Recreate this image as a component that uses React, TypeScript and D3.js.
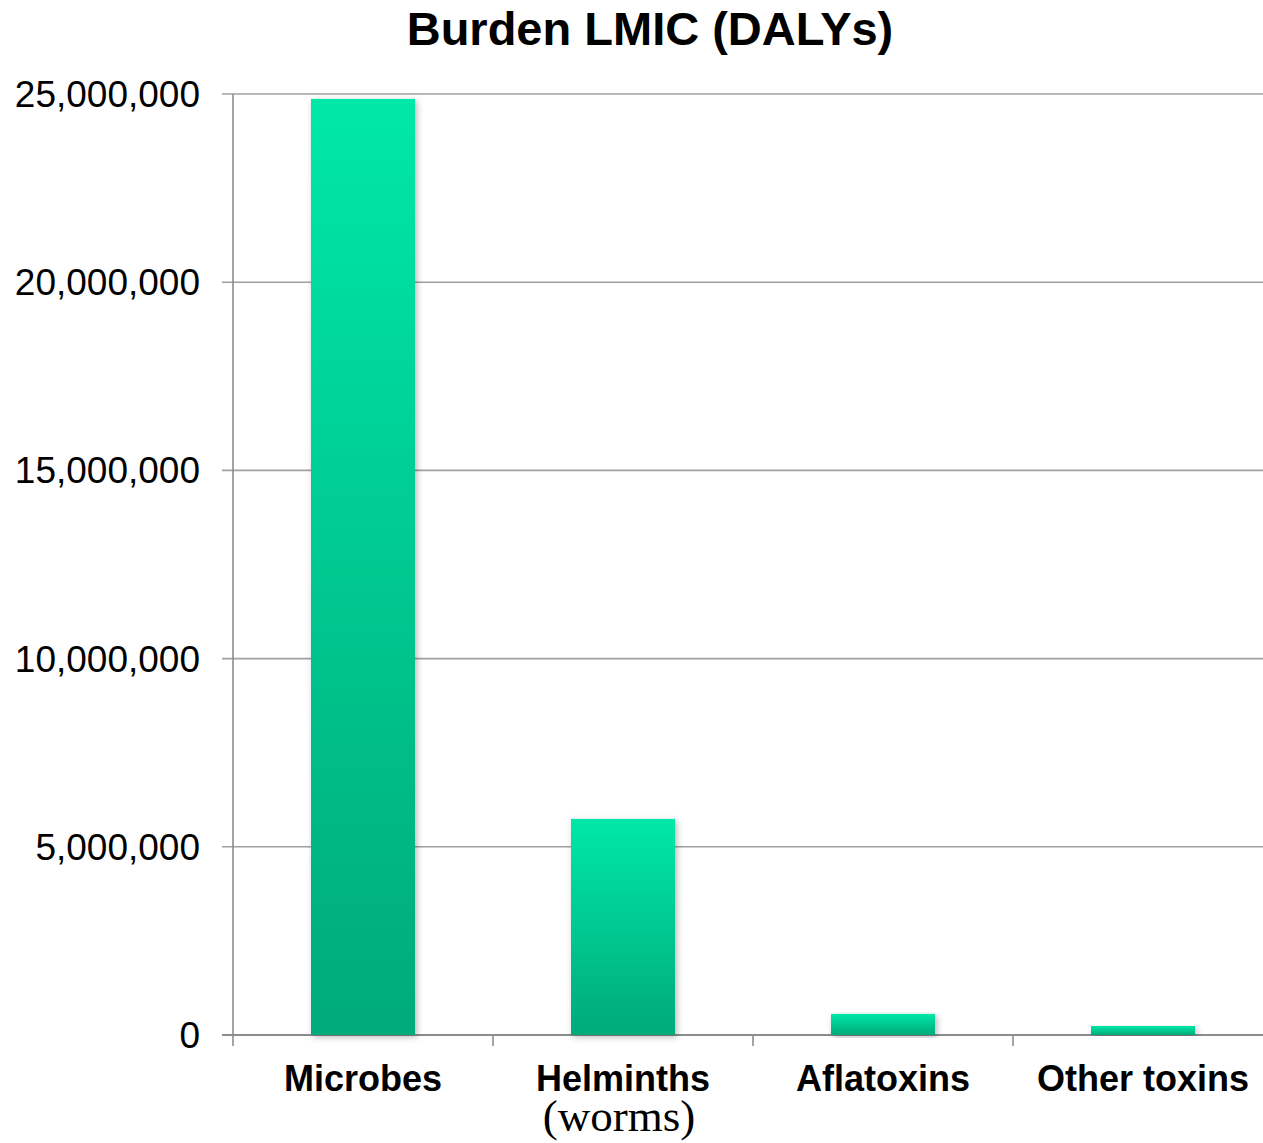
import React from "react";
import * as d3 from "d3";

// Disease burden in low- and middle-income countries, DALYs by hazard group
const categories = ["Microbes", "Helminths", "Aflatoxins", "Other toxins"];
const categorySubLabels = ["", "(worms)", "", ""];
const dalys = [24870000, 5740000, 560000, 240000];
const yTicks = [0, 5000000, 10000000, 15000000, 20000000, 25000000];
const title = "Burden LMIC (DALYs)";

const W = 1263;
const H = 1143;
const plotLeft = 233;
const plotRight = 1273;
const plotTop = 94;
const plotBottom = 1035;

export default function App() {
  const x = d3
    .scaleBand<string>()
    .domain(categories)
    .range([plotLeft, plotRight])
    .paddingInner(0.6)
    .paddingOuter(0.3);
  const band = d3.scaleBand<string>().domain(categories).range([plotLeft, plotRight]);
  const y = d3.scaleLinear().domain([0, 25000000]).range([plotBottom, plotTop]);
  const fmt = d3.format(",");
  const sans = "'Liberation Sans', Arial, sans-serif";

  return (
    <div style={{ position: "absolute", left: 0, top: 0 }}>
      <svg width={W} height={H} style={{ display: "block" }}>
        <defs>
          <linearGradient id="barFill" x1="0" y1="0" x2="0" y2="1">
            <stop offset="0" stopColor="#00E8A7" />
            <stop offset="1" stopColor="#00AA7A" />
          </linearGradient>
          <filter id="barShadow" x="-20%" y="-5%" width="140%" height="115%">
            <feDropShadow dx="2" dy="2" stdDeviation="3" floodColor="#000" floodOpacity="0.28" />
          </filter>
          <clipPath id="frame">
            <rect x={0} y={0} width={W} height={H} />
          </clipPath>
        </defs>
        <rect width={W} height={H} fill="#fff" />

        <text
          x={650}
          y={45}
          textAnchor="middle"
          fontFamily={sans}
          fontWeight="bold"
          fontSize={47}
          fill="#000"
        >
          {title}
        </text>

        <g clipPath="url(#frame)">
          {/* horizontal gridlines with left tick stubs */}
          {yTicks.map((t) => (
            <line
              key={"g" + t}
              x1={plotLeft - 11}
              x2={plotRight}
              y1={y(t)}
              y2={y(t)}
              stroke={t === 0 ? "#8c8c8c" : "#a0a0a0"}
              strokeWidth={t === 0 ? 2 : 1.6}
            />
          ))}
          {/* y axis */}
          <line x1={plotLeft} x2={plotLeft} y1={plotTop} y2={plotBottom + 11} stroke="#8c8c8c" strokeWidth={1.6} />
          {/* category boundary ticks */}
          {categories.map((c) => (
            <line
              key={"t" + c}
              x1={band(c)! + band.bandwidth()}
              x2={band(c)! + band.bandwidth()}
              y1={plotBottom}
              y2={plotBottom + 11}
              stroke="#8c8c8c"
              strokeWidth={1.6}
            />
          ))}

          {/* bars */}
          {categories.map((c, i) => (
            <rect
              key={"b" + c}
              x={x(c)}
              y={y(dalys[i])}
              width={x.bandwidth()}
              height={y(0) - y(dalys[i])}
              fill="url(#barFill)"
              filter="url(#barShadow)"
            />
          ))}
        </g>

        {/* y tick labels */}
        {yTicks.map((t) => (
          <text
            key={"l" + t}
            x={200}
            y={y(t) + 13}
            textAnchor="end"
            fontFamily={sans}
            fontSize={37}
            fill="#000"
          >
            {fmt(t)}
          </text>
        ))}

        {/* category labels */}
        {categories.map((c, i) => {
          const cx = band(c)! + band.bandwidth() / 2;
          return (
            <g key={"c" + c}>
              <text
                x={cx}
                y={1091}
                textAnchor="middle"
                fontFamily={sans}
                fontWeight="bold"
                fontSize={36}
                fill="#000"
              >
                {c}
              </text>
              {categorySubLabels[i] && (
                <text
                  x={cx - 4}
                  y={1131}
                  textAnchor="middle"
                  fontFamily="'Liberation Serif', 'Times New Roman', serif"
                  fontSize={45}
                  fill="#000"
                >
                  {categorySubLabels[i]}
                </text>
              )}
            </g>
          );
        })}
      </svg>
    </div>
  );
}
